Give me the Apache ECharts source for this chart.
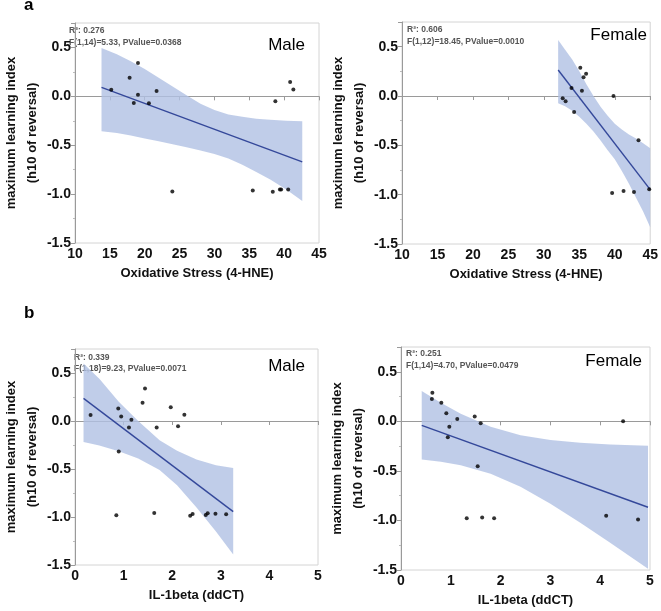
<!DOCTYPE html>
<html>
<head>
<meta charset="utf-8">
<script src="https://cdn.jsdelivr.net/npm/echarts@6/dist/echarts.min.js"></script>
<style>html,body{margin:0;padding:0;background:#fff}#c{width:661px;height:611px}</style>
</head>
<body>
<div id="c"></div>
<script>
// ---------- DATA ----------
// (a) Male: Oxidative stress (4-HNE) vs max learning index
const aMaleX = [15.2, 17.83, 19.03, 18.43, 19.03, 20.6, 21.7, 23.96, 35.5, 38.37, 38.74, 39.39, 39.57, 40.58, 40.86, 41.32];
const aMaleY = [0.068, 0.19, 0.34, -0.068, 0.017, -0.071, 0.054, -0.973, -0.963, -0.976, -0.051, -0.952, -0.952, -0.952, 0.146, 0.071];
const aMaleFit = [[13.8, 0.092], [42.6, -0.67]];
const aMaleBandX  = [13.8, 16, 18, 20, 22, 24, 26, 28, 30, 32, 34, 36, 38, 40.3, 42.6];
const aMaleBandLo = [-0.357, -0.375, -0.40, -0.43, -0.46, -0.49, -0.52, -0.555, -0.59, -0.635, -0.70, -0.775, -0.85, -0.952, -1.07];
const aMaleBandHi = [0.494, 0.43, 0.36, 0.28, 0.19, 0.10, 0.01, -0.075, -0.14, -0.185, -0.21, -0.228, -0.24, -0.25, -0.255];

// (a) Female
const aFemX = [32.66, 33.07, 33.9, 34.27, 35.14, 35.37, 35.6, 35.96, 39.63, 39.82, 41.24, 42.71, 43.35, 44.86];
const aFemY = [-0.024, -0.054, 0.081, -0.162, 0.287, 0.054, 0.189, 0.226, -0.983, 0.0, -0.963, -0.973, -0.449, -0.946];
const aFemFit = [[32.02, 0.264], [45, -0.949]];
const aFemBandX  = [32.02, 33, 34, 35, 36, 37, 38, 39, 40, 41, 42, 43, 44, 45];
const aFemBandLo = [-0.074, -0.105, -0.15, -0.21, -0.28, -0.36, -0.45, -0.55, -0.64, -0.76, -0.89, -1.03, -1.17, -1.33];
const aFemBandHi = [0.568, 0.47, 0.37, 0.25, 0.12, 0.0, -0.11, -0.20, -0.28, -0.34, -0.39, -0.43, -0.48, -0.53];

// (b) Male: IL-1beta (ddCT)
const bMaleX = [0.32, 0.89, 0.95, 1.16, 1.11, 0.90, 0.85, 1.39, 1.44, 1.68, 1.63, 1.97, 2.12, 2.25, 2.37, 2.42, 2.69, 2.73, 2.89, 3.11];
const bMaleY = [0.062, 0.131, 0.048, 0.014, -0.069, -0.318, -0.983, 0.19, 0.339, -0.069, -0.958, 0.142, -0.055, 0.066, -0.986, -0.969, -0.979, -0.962, -0.965, -0.972];
const bMaleFit = [[0.175, 0.236], [3.255, -0.944]];
const bMaleBandX  = [0.175, 0.5, 0.9, 1.3, 1.74, 2.1, 2.5, 2.9, 3.255];
const bMaleBandLo = [-0.22, -0.256, -0.314, -0.39, -0.51, -0.67, -0.90, -1.15, -1.39];
const bMaleBandHi = [0.60, 0.44, 0.20, 0.0, -0.20, -0.31, -0.40, -0.46, -0.49];

// (b) Female
const bFemX = [0.63, 0.62, 0.81, 0.91, 0.97, 0.94, 1.13, 1.48, 1.60, 1.54, 1.32, 1.63, 1.87, 4.12, 4.46, 4.76];
const bFemY = [0.289, 0.225, 0.188, 0.081, -0.054, -0.161, 0.023, 0.05, -0.02, -0.453, -0.977, -0.97, -0.977, -0.953, 0.0, -0.99];
const bFemFit = [[0.416, -0.04], [4.96, -0.867]];
const bFemBandX  = [0.416, 0.8, 1.2, 1.8, 2.4, 3.0, 3.6, 4.2, 4.96];
const bFemBandLo = [-0.386, -0.408, -0.443, -0.529, -0.661, -0.831, -1.023, -1.224, -1.487];
const bFemBandHi = [0.305, 0.188, 0.077, -0.055, -0.141, -0.189, -0.217, -0.234, -0.247];

const yTicks = [-1.5, -1.0, -0.5, 0.0, 0.5];
const xTicksA = [10, 15, 20, 25, 30, 35, 40, 45];
const xTicksB = [0, 1, 2, 3, 4, 5];

const yName = 'maximum learning index\n(h10 of reversal)';
const xNameA = 'Oxidative Stress (4-HNE)';
const xNameB = 'IL-1beta (ddCT)';

const stats = [
  ['R²: 0.276', 'F(1,14)=5.33, PValue=0.0368', 'Male'],
  ['R²: 0.606', 'F(1,12)=18.45, PValue=0.0010', 'Female'],
  ['R²: 0.339', 'F(1,18)=9.23, PValue=0.0071', 'Male'],
  ['R²: 0.251', 'F(1,14)=4.70, PValue=0.0479', 'Female']
];

// ---------- CHART ----------
const FONT = '"Liberation Sans", Arial, sans-serif';
const BAND = 'rgba(176,193,228,0.8)';
const LINE = '#34489a';

const grids = [
  {left: 66, top: 23, width: 253, height: 220},
  {left: 402, top: 22, width: 254, height: 222},
  {left: 70, top: 349, width: 248, height: 216},
  {left: 401, top: 347, width: 249, height: 223}
];

function xAxis(i, ticks, name) {
  return {
    type: 'value', gridIndex: i, min: ticks[0], max: ticks[ticks.length - 1],
    interval: ticks[1] - ticks[0],
    name: name, nameLocation: 'middle', nameGap: 24,
    nameTextStyle: {fontFamily: FONT, fontWeight: 'bold', fontSize: 13, color: '#111'},
    axisLine: {show: true, lineStyle: {color: '#9a9a9a'}},
    axisTick: {show: true, length: 4, lineStyle: {color: '#9a9a9a'}},
    axisLabel: {fontFamily: FONT, fontWeight: 'bold', fontSize: 14, color: '#111', margin: 4},
    splitLine: {show: false}
  };
}
function yAxis(i) {
  return {
    type: 'value', gridIndex: i, min: -1.5, max: 0.75, interval: 0.5,
    name: yName, nameLocation: 'middle', nameGap: 28,
    nameTextStyle: {fontFamily: FONT, fontWeight: 'bold', fontSize: 13, color: '#111', lineHeight: 21},
    axisLine: {show: true, lineStyle: {color: '#9a9a9a'}},
    axisTick: {show: true, length: 4, lineStyle: {color: '#9a9a9a'}},
    minorTick: {show: true, splitNumber: 2, length: 2, lineStyle: {color: '#bbbbbb'}},
    axisLabel: {fontFamily: FONT, fontWeight: 'bold', fontSize: 14, color: '#111', margin: 4,
      showMaxLabel: false,
      formatter: v => (yTicks.some(t => Math.abs(t - v) < 1e-9) ? v.toFixed(1) : '')},
    splitLine: {show: false}
  };
}

function bandSeries(i, bx, lo, hi) {
  const pts = bx.map((x, k) => [x, lo[k], hi[k]]);
  return {
    type: 'custom', xAxisIndex: i, yAxisIndex: i, clip: true, z: 1,
    data: pts,
    renderItem: function (params, api) {
      if (params.dataIndex !== 0) return;
      const up = pts.map(p => api.coord([p[0], p[2]]));
      const dn = pts.map(p => api.coord([p[0], p[1]])).reverse();
      return {type: 'polygon', shape: {points: up.concat(dn)}, style: {fill: BAND, stroke: null}};
    }
  };
}
function fitSeries(i, fit) {
  return {type: 'line', xAxisIndex: i, yAxisIndex: i, data: fit, showSymbol: false, symbol: 'none',
    lineStyle: {color: LINE, width: 1.4}, z: 3, silent: true};
}
function dotSeries(i, xs, ys) {
  return {type: 'scatter', xAxisIndex: i, yAxisIndex: i, data: xs.map((x, k) => [x, ys[k]]),
    symbolSize: 4, itemStyle: {color: '#000'}, z: 4};
}

const statPos = [
  {x: 69, y1: 31, y2: 43, lx: 305, ly: 45},
  {x: 407, y1: 30, y2: 42, lx: 647, ly: 35},
  {x: 74, y1: 358, y2: 369, lx: 305, ly: 366},
  {x: 406, y1: 354, y2: 366, lx: 642, ly: 361}
];
const graphics = [
  {type: 'text', left: 24, top: -3, style: {text: 'a', font: 'bold 17px ' + FONT, fill: '#000'}},
  {type: 'text', left: 24, top: 305, style: {text: 'b', font: 'bold 17px ' + FONT, fill: '#000'}}
];
statPos.forEach((p, i) => {
  graphics.push({type: 'text', x: p.x, y: p.y1, style: {text: stats[i][0], font: 'bold 8.5px ' + FONT, fill: '#555', verticalAlign: 'middle'}});
  graphics.push({type: 'text', x: p.x, y: p.y2, style: {text: stats[i][1], font: 'bold 8.5px ' + FONT, fill: '#555', verticalAlign: 'middle'}});
  graphics.push({type: 'text', x: p.lx, y: p.ly, style: {text: stats[i][2], font: '17px ' + FONT, fill: '#000', align: 'right', verticalAlign: 'middle'}});
});

const option = {
  backgroundColor: '#fff',
  animation: false,
  grid: grids.map(g => Object.assign({show: true, borderColor: '#d4d4d4', borderWidth: 1, backgroundColor: 'transparent'}, g)),
  xAxis: [xAxis(0, xTicksA, xNameA), xAxis(1, xTicksA, xNameA), xAxis(2, xTicksB, xNameB), xAxis(3, xTicksB, xNameB)],
  yAxis: [yAxis(0), yAxis(1), yAxis(2), yAxis(3)],
  series: [
    bandSeries(0, aMaleBandX, aMaleBandLo, aMaleBandHi), fitSeries(0, aMaleFit), dotSeries(0, aMaleX, aMaleY),
    bandSeries(1, aFemBandX, aFemBandLo, aFemBandHi), fitSeries(1, aFemFit), dotSeries(1, aFemX, aFemY),
    bandSeries(2, bMaleBandX, bMaleBandLo, bMaleBandHi), fitSeries(2, bMaleFit), dotSeries(2, bMaleX, bMaleY),
    bandSeries(3, bFemBandX, bFemBandLo, bFemBandHi), fitSeries(3, bFemFit), dotSeries(3, bFemX, bFemY)
  ],
  graphic: graphics
};
const chart = echarts.init(document.getElementById('c'), null, {renderer: 'canvas'});
chart.setOption(option);
</script>
</body>
</html>
